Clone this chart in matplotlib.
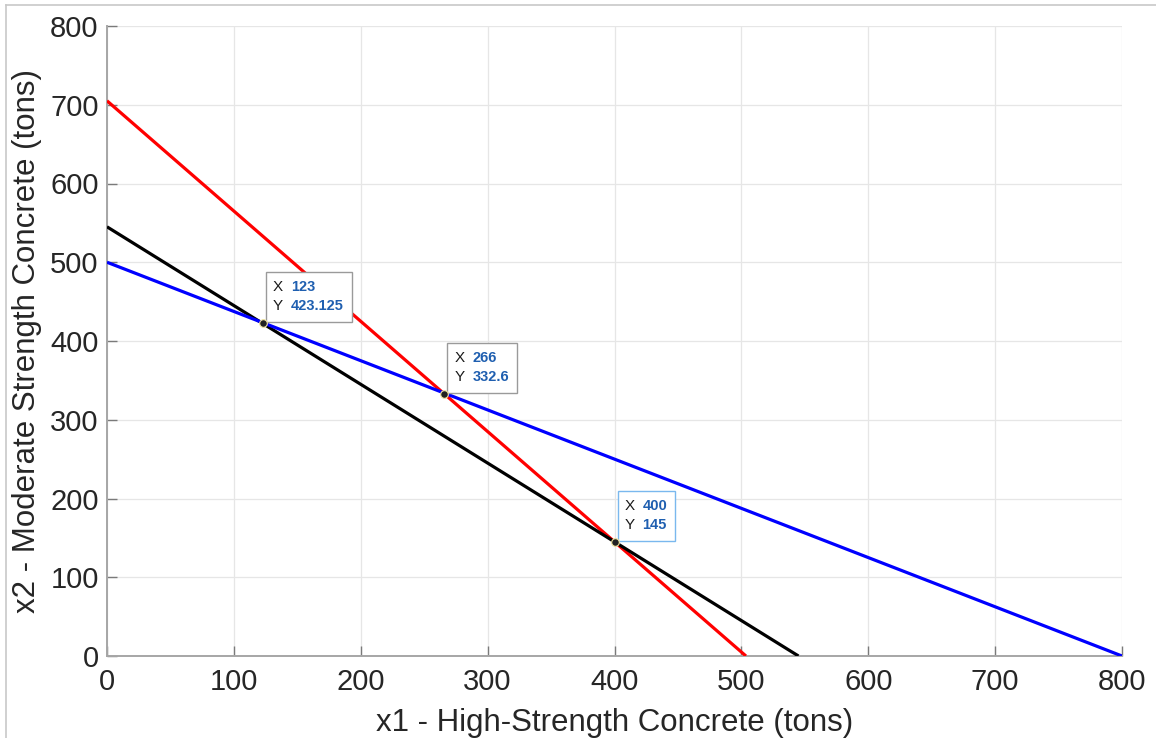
import matplotlib
matplotlib.use("Agg")
import matplotlib.pyplot as plt
from matplotlib.lines import Line2D
from matplotlib.patches import Rectangle
from matplotlib.transforms import IdentityTransform

# Constraint lines (endpoints)
red_x = [0, 503.6]
red_y = [705, 0]
black_x = [0, 545]
black_y = [545, 0]
blue_x = [0, 800]
blue_y = [500, 0]

# Data tips
tip_x = [123, 266, 400]
tip_y = [423.125, 332.6, 145]
tip_xlabels = ["123", "266", "400"]
tip_ylabels = ["423.125", "332.6", "145"]

ticks = [0, 100, 200, 300, 400, 500, 600, 700, 800]

plt.rcParams['font.family'] = ['Liberation Sans', 'DejaVu Sans']

DPI = 100
fig = plt.figure(figsize=(11.56, 7.38), dpi=DPI)
ax = fig.add_axes([107/1156, 82/738, 1015/1156, 630/738])

lw = 2.3
ax.plot(red_x, red_y, color='#ff0000', lw=lw, solid_capstyle='butt', zorder=3)
ax.plot(black_x, black_y, color='#000000', lw=lw, solid_capstyle='butt', zorder=3)
ax.plot(blue_x, blue_y, color='#0000ff', lw=lw, solid_capstyle='butt', zorder=3)

ax.set_xlim(0, 800)
ax.set_ylim(0, 800)
ax.set_xticks(ticks)
ax.set_yticks(ticks)
ax.grid(True, color='#e6e6e6', lw=0.9, zorder=0)
ax.set_axisbelow(True)

for s in ['top', 'right']:
    ax.spines[s].set_visible(False)
for s in ['left', 'bottom']:
    ax.spines[s].set_color('#a6a6a6')
    ax.spines[s].set_linewidth(1.4)

ax.tick_params(axis='both', direction='in', length=7, width=1.0, color='#7a7a7a',
               labelsize=21, labelcolor='#262626')
ax.tick_params(axis='x', pad=9)
ax.tick_params(axis='y', pad=6)
ax.tick_params(top=False, right=False)

ax.set_xlabel("x1 - High-Strength Concrete (tons)", fontsize=22.5, color='#262626', labelpad=8)
ax.set_ylabel("x2 - Moderate Strength Concrete (tons)", fontsize=22.5, color='#262626', labelpad=6)

# data tip markers
ax.plot(tip_x, tip_y, linestyle='none', marker='o', markersize=5.5,
        markerfacecolor='#222222', markeredgecolor='#f2e6a0', markeredgewidth=0.8, zorder=9)

px = 72.0 / DPI  # points per pixel
edge_colors = ['#9a9a9a', '#9a9a9a', '#7ab8ee']
fs = 10.5
value_texts = []
for x, y, xl, yl in zip(tip_x, tip_y, tip_xlabels, tip_ylabels):
    row = []
    for lab, val, dy in (("X", xl, 36), ("Y", yl, 17)):
        ax.annotate(lab, xy=(x, y), xytext=(10 * px, dy * px), textcoords='offset points',
                    ha='left', va='center', fontsize=11, color='#1a1a1a', zorder=8)
        t = ax.annotate(val, xy=(x, y), xytext=(28 * px, dy * px), textcoords='offset points',
                        ha='left', va='center', fontsize=fs, color='#1f5fb0',
                        fontweight='bold', zorder=8)
        row.append(t)
    value_texts.append(row)

fig.canvas.draw()
renderer = fig.canvas.get_renderer()
for (x, y), row, ec in zip(zip(tip_x, tip_y), value_texts, edge_colors):
    dx, dy = ax.transData.transform((x, y))
    right = max(t.get_window_extent(renderer).x1 for t in row) + 8
    left = dx + 3
    bottom = dy + 1
    top = dy + 51
    rect = Rectangle((left, bottom), right - left, top - bottom, transform=IdentityTransform(),
                     facecolor='white', edgecolor=ec, lw=1.0, zorder=7)
    ax.add_artist(rect)

# figure frame lines (left and top)
fig.add_artist(Line2D([6/1156, 6/1156], [0, 1 - 5/738], transform=fig.transFigure,
                      color='#c8c8c8', lw=1.2))
fig.add_artist(Line2D([6/1156, 1], [1 - 5/738, 1 - 5/738], transform=fig.transFigure,
                      color='#c8c8c8', lw=1.2))

fig.savefig("out.png", dpi=DPI)
